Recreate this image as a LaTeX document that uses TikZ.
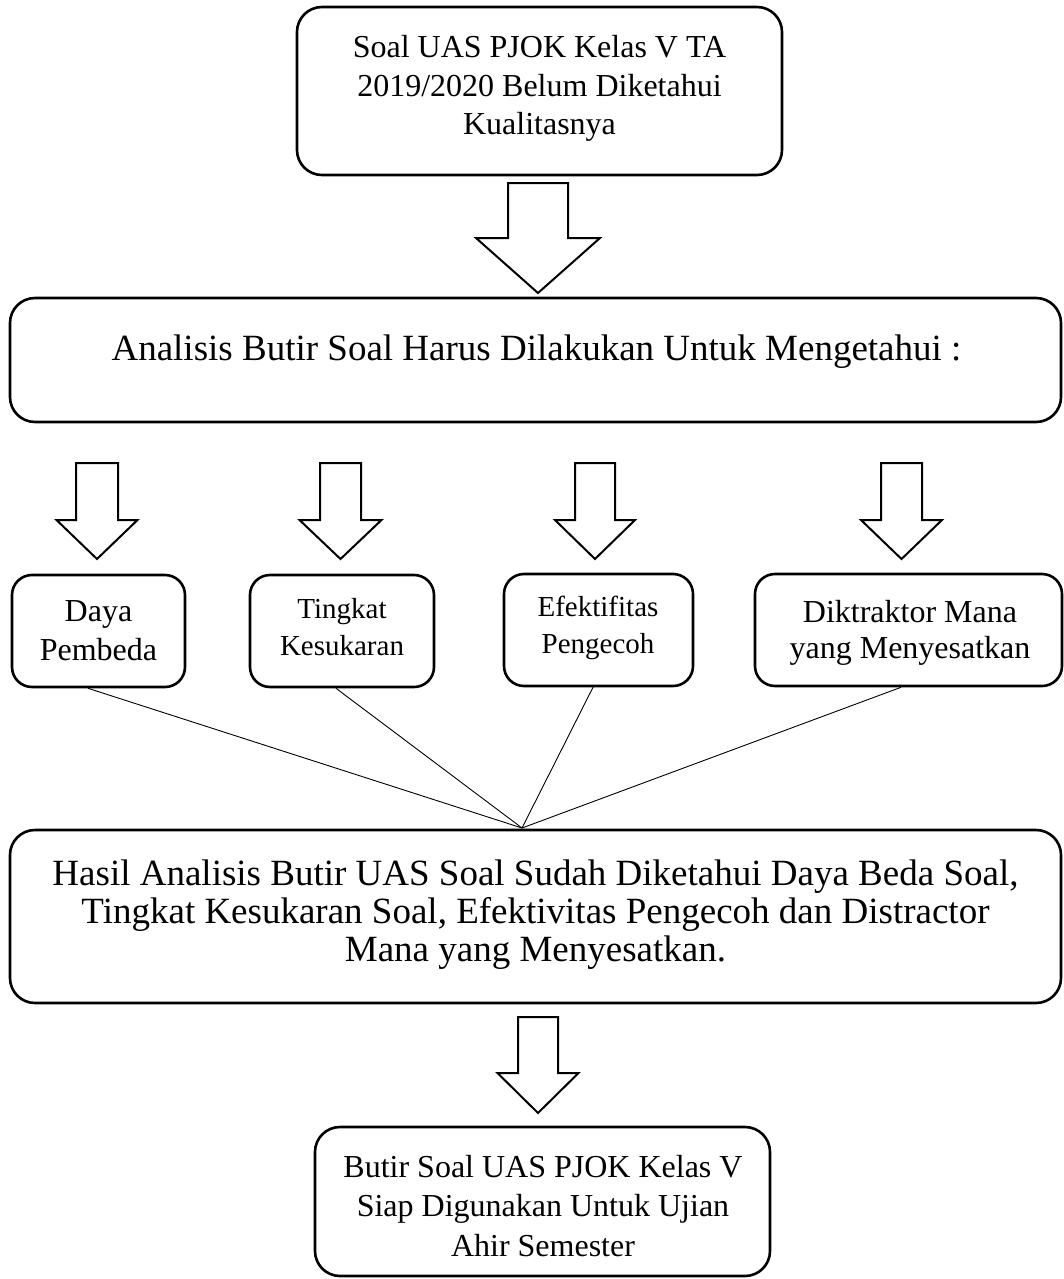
\documentclass[tikz,border=0pt]{standalone}
\usepackage{fontspec}
\setmainfont{Liberation Serif}
\begin{document}
\begin{tikzpicture}[x=1pt,y=-1pt,
  box/.style={draw, line width=2.6pt, rounded corners=25pt, inner sep=0pt},
  sbox/.style={draw, line width=2.6pt, rounded corners=20pt, inner sep=0pt, minimum height=112pt},
  txt/.style={inner sep=0pt, align=center, anchor=base},
  fa/.style={font={\fontsize{32}{38.5}\selectfont}},
  fb/.style={font={\fontsize{37}{38}\selectfont}},
  fc/.style={font={\fontsize{29}{37}\selectfont}},
  arrowline/.style={draw, line width=2pt, fill=white, line join=miter},
  link/.style={draw, line width=0.9pt},
  pics/barrow/.style args={#1/#2/#3/#4}{code={
    \draw[arrowline] (-#1,0) -- (#1,0) -- (#1,#3) -- (#2,#3) -- (0,#4) -- (-#2,#3) -- (-#1,#3) -- cycle;}}
]
\useasboundingbox (0,0) rectangle (1063,1279);

% boxes
\node[box, minimum width=485pt, minimum height=168pt] (top) at (539.5,91) {};
\node[box, minimum width=1051pt, minimum height=124pt] (ana) at (535.5,360) {};
\node[sbox, minimum width=173pt] (b1) at (98.5,631) {};
\node[sbox, minimum width=184pt] (b2) at (342,631) {};
\node[sbox, minimum width=189pt] (b3) at (598.5,630) {};
\node[sbox, minimum width=307pt] (b4) at (908.5,630) {};
\node[box, minimum width=1051pt, minimum height=173pt] (res) at (535.5,916.5) {};
\node[box, minimum width=455pt, minimum height=149pt] (fin) at (542.5,1201.5) {};

% texts (anchor base = baseline of last line)
\node[txt, fa] (ttop) at (539.5,135) {Soal UAS PJOK Kelas V TA\\2019/2020 Belum Diketahui\\Kualitasnya};
\node[txt, fb] (tana) at (536.5,360) {Analisis Butir Soal Harus Dilakukan Untuk Mengetahui :};
\node[txt, fa] (tb1) at (98.5,660) {Daya\\Pembeda};
\node[txt, fc] (tb2) at (342,655) {Tingkat\\Kesukaran};
\node[txt, fc] (tb3) at (598,653) {Efektifitas\\Pengecoh};
\node[txt, fa, font={\fontsize{32}{36}\selectfont}] (tb4) at (910,658) {Diktraktor Mana\\yang Menyesatkan};
\node[txt, fb] (tres) at (535.5,961) {Hasil Analisis Butir UAS Soal Sudah Diketahui Daya Beda Soal,\\Tingkat Kesukaran Soal, Efektivitas Pengecoh dan Distractor\\Mana yang Menyesatkan.};
\node[txt, fa, font={\fontsize{32}{39.5}\selectfont}] (tfin) at (543,1256) {Butir Soal UAS PJOK Kelas V\\Siap Digunakan Untuk Ujian\\Ahir Semester};

% block arrows
\pic at (538,183) {barrow=30/62/55/110};
\pic at (97,463) {barrow=21/40.5/57/96};
\pic at (340.5,463) {barrow=20.5/41/57/96};
\pic at (595,463) {barrow=20/40/57/96};
\pic at (901.5,463) {barrow=20.5/40.5/57/96};
\pic at (538,1017) {barrow=20/40.5/56/96};

% converging links
\coordinate (meet) at (522,828);
\draw[link] ([xshift=-10.5pt]b1.south) -- (meet);
\draw[link] ([xshift=-6pt]b2.south) -- (meet);
\draw[link] ([xshift=-4.5pt,yshift=2pt]b3.south) -- (meet);
\draw[link] ([xshift=-7.5pt]b4.south) -- (meet);
\end{tikzpicture}
\end{document}
